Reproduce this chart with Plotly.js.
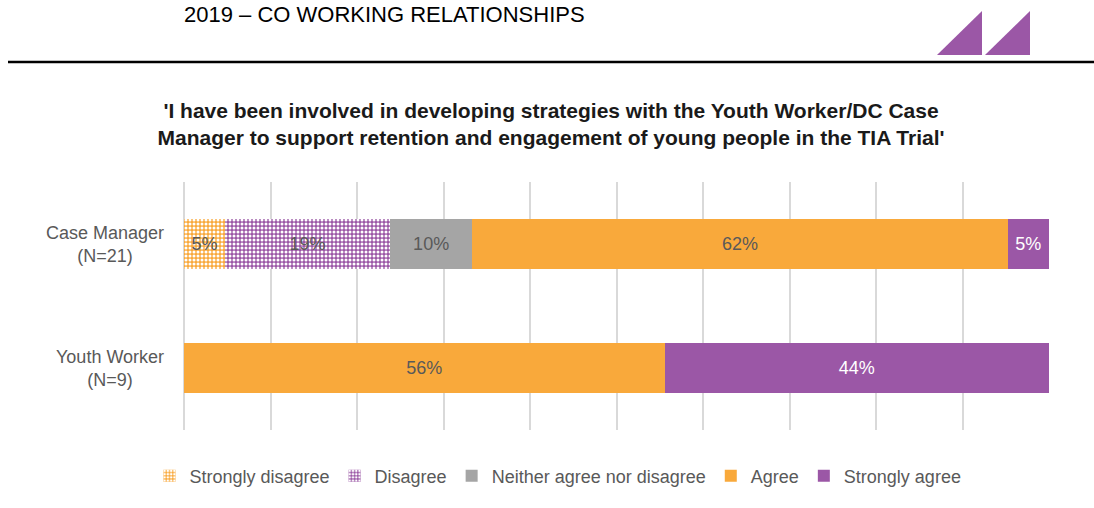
<!DOCTYPE html>
<html>
<head>
<meta charset="utf-8">
<script src="https://cdn.plot.ly/plotly-3.0.1.min.js"></script>
<style>
html,body{margin:0;padding:0;background:#fff;}
#chart{width:1094px;height:508px;}
</style>
</head>
<body>
<div id="chart"></div>
<script>
// ---- data ----
const categories = ["Case Manager (N=21)", "Youth Worker (N=9)"];
const categoryLabels = ["Case Manager<br>(N=21)", "Youth Worker<br>(N=9)"];
const responseNames = ["Strongly disagree", "Disagree", "Neither agree nor disagree", "Agree", "Strongly agree"];
// percentage of respondents per category (Case Manager, Youth Worker)
const stronglyDisagree = [4.76, 0];
const disagree = [19.05, 0];
const neither = [9.52, 0];
const agree = [61.90, 55.56];
const stronglyAgree = [4.76, 44.44];
const headerText = "2019 – CO WORKING RELATIONSHIPS";
const chartTitle = "'I have been involved in developing strategies with the Youth Worker/DC Case<br>Manager to support retention and engagement of young people in the TIA Trial'";

// ---- styles ----
const seriesValues = [stronglyDisagree, disagree, neither, agree, stronglyAgree];
const colors = ["#F9A93B", "#9B57A6", "#A5A5A5", "#F9A93B", "#9B57A6"];
const patterned = [true, true, false, false, false];
const textColors = ["#595959", "#595959", "#595959", "#595959", "#FFFFFF"];
const fontFamily = "Liberation Sans, Arial, sans-serif";

const traces = seriesValues.map((vals, i) => {
  const marker = {color: colors[i], line: {width: 0}};
  if (patterned[i]) {
    marker.pattern = {shape: ".", fgcolor: "#FFFFFF", bgcolor: colors[i], size: 4, solidity: 0.45, fillmode: "replace"};
  }
  return {
    type: "bar",
    orientation: "h",
    name: responseNames[i],
    y: categories,
    x: vals,
    width: 0.4,
    text: vals.map(v => v > 0 ? Math.round(v) + "%" : ""),
    textposition: "inside",
    insidetextanchor: "middle",
    constraintext: "none",
    textangle: 0,
    textfont: {family: fontFamily, size: 18, color: textColors[i]},
    hoverinfo: "name+x",
    marker: marker
  };
});

function px2x(px) { return (px - 184) / 865; }
function py2y(py) { return (508 - 78 - py) / 248; }
function pathTri(x0, x1) {
  return "M " + px2x(x0) + " " + py2y(55) + " L " + px2x(x1) + " " + py2y(55) + " L " + px2x(x1) + " " + py2y(11) + " Z";
}

const annotations = categories.map((c, i) => ({
  xref: "paper", yref: "y", x: 0, y: c,
  xanchor: "right", yanchor: "middle", xshift: -18,
  text: categoryLabels[i], showarrow: false, align: "center",
  font: {family: fontFamily, size: 18, color: "#595959"}
}));
annotations.push({
  xref: "paper", yref: "paper", x: px2x(384), y: py2y(0),
  xanchor: "center", yanchor: "top",
  text: headerText, showarrow: false,
  font: {family: fontFamily, size: 22, color: "#000000"}
});

const layout = {
  width: 1094, height: 508,
  paper_bgcolor: "#FFFFFF", plot_bgcolor: "#FFFFFF",
  margin: {l: 184, r: 45, t: 182, b: 78},
  barmode: "stack",
  title: {
    text: chartTitle,
    font: {family: fontFamily, size: 21, color: "#1A1A1A", weight: "bold"},
    x: 551 / 1094, xanchor: "center", xref: "container",
    yref: "container", y: 1 - 118/508, yanchor: "middle"
  },
  xaxis: {
    range: [0, 100], dtick: 10, showticklabels: false, ticks: "",
    showgrid: true, gridcolor: "#D9D9D9", gridwidth: 2,
    zeroline: true, zerolinecolor: "#D9D9D9", zerolinewidth: 2,
    showline: false, fixedrange: true
  },
  yaxis: {
    autorange: "reversed", showticklabels: false, ticks: "",
    showgrid: false, zeroline: false, showline: false
  },
  showlegend: true,
  legend: {
    orientation: "h", x: px2x(558), xanchor: "center", y: py2y(476), yanchor: "middle",
    font: {family: fontFamily, size: 18, color: "#595959"},
    traceorder: "normal", itemwidth: 30, itemclick: false, tracegroupgap: 0
  },
  annotations: annotations,
  shapes: [
    {type: "line", xref: "paper", yref: "paper", x0: px2x(8), x1: px2x(1094), y0: py2y(62), y1: py2y(62),
      line: {color: "#000000", width: 2.5}},
    {type: "path", xref: "paper", yref: "paper",
      path: pathTri(937, 982), fillcolor: "#9B57A6", line: {width: 0}},
    {type: "path", xref: "paper", yref: "paper",
      path: pathTri(985, 1030), fillcolor: "#9B57A6", line: {width: 0}}
  ]
};

Plotly.newPlot("chart", traces, layout, {displayModeBar: false, staticPlot: true});
</script>
</body>
</html>
